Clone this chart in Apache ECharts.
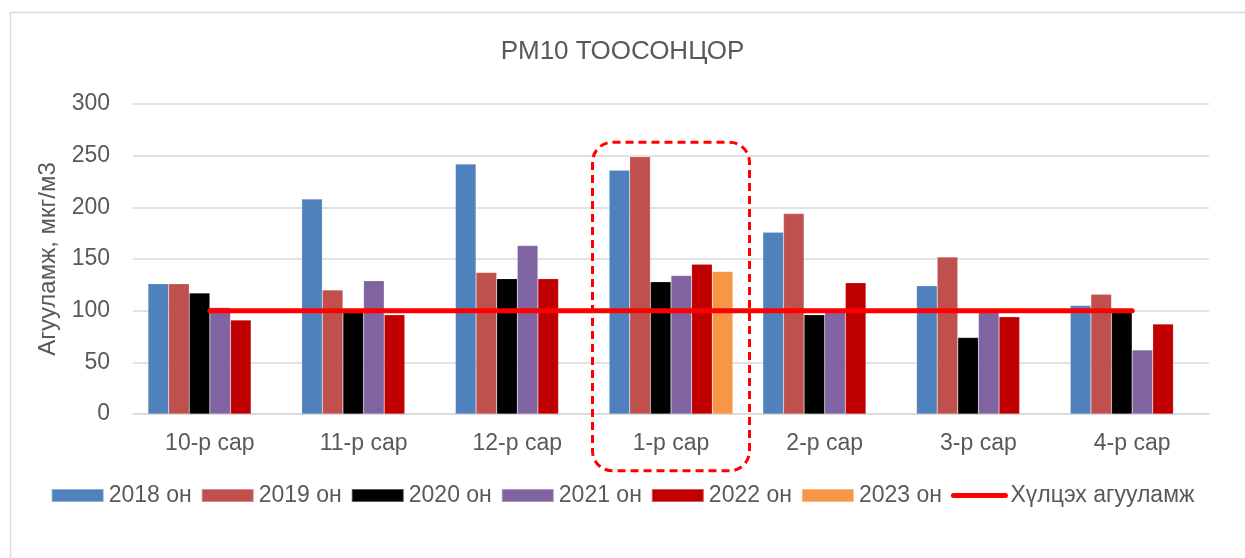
<!DOCTYPE html>
<html>
<head>
<meta charset="utf-8">
<script src="https://cdn.jsdelivr.net/npm/echarts@6/dist/echarts.min.js"></script>
<style>
  html, body { margin: 0; padding: 0; background: #fff; }
  #container { width: 1245px; height: 558px; }
</style>
</head>
<body>
<div id="container"></div>
<script>
// сарууд
var months = ['10-р сар', '11-р сар', '12-р сар', '1-р сар', '2-р сар', '3-р сар', '4-р сар'];
// жил тус бүрийн утга (мкг/м3)
var v2018 = [126, 208, 242, 236, 176, 124, 105];
var v2019 = [126, 120, 137, 249, 194, 152, 116];
var v2020 = [117, 99, 131, 128, 96, 74, 99];
var v2021 = [103, 129, 163, 134, 99, 100, 62];
var v2022 = [91, 96, 131, 145, 127, 94, 87];
var v2023 = [null, null, null, 138, null, null, null];
// хүлцэх агууламж
var limit = [100, 100, 100, 100, 100, 100, 100];
var yTicks = [0, 50, 100, 150, 200, 250, 300];
// тодруулсан сар
var markMonth = '1-р сар';

var textColor = '#595959';
var font = 'Liberation Sans, Arial, sans-serif';

var dom = document.getElementById('container');
var myChart = echarts.init(dom);

function bar(name, values, color) {
    return {
        name: name,
        type: 'bar',
        data: values,
        barGap: 0,
        barCategoryGap: '19.5%',
        itemStyle: { color: color, borderColor: 'rgba(255,255,255,0.35)', borderWidth: 0.5 }
    };
}

myChart.setOption({
    animation: false,
    textStyle: { fontFamily: font },
    title: {
        text: 'PM10 ТООСОНЦОР',
        left: 'center',
        top: 34,
        textStyle: { color: textColor, fontSize: 26, fontWeight: 'normal', fontFamily: font }
    },
    legend: {
        bottom: 46,
        left: 'center',
        itemWidth: 52,
        itemHeight: 13,
        itemGap: 9,
        textStyle: { color: textColor, fontSize: 23, fontFamily: font },
        data: [
            { name: '2018 он', icon: 'rect' },
            { name: '2019 он', icon: 'rect' },
            { name: '2020 он', icon: 'rect' },
            { name: '2021 он', icon: 'rect' },
            { name: '2022 он', icon: 'rect' },
            { name: '2023 он', icon: 'rect' },
            // зөвхөн шугам, цэггүй
            {
                name: 'Хүлцэх агууламж',
                itemStyle: { opacity: 0 },
                lineStyle: { color: '#FF0000', width: 5, cap: 'round' }
            }
        ]
    },
    grid: { left: 133, right: 36, top: 104, bottom: 144 },
    xAxis: {
        type: 'category',
        data: months,
        axisLine: { lineStyle: { color: '#d9d9d9', width: 1.5 } },
        axisTick: { show: false },
        axisLabel: { color: textColor, fontSize: 23, margin: 18, fontFamily: font }
    },
    yAxis: {
        type: 'value',
        min: yTicks[0],
        max: yTicks[yTicks.length - 1],
        interval: 50,
        name: 'Агууламж, мкг/м3',
        nameLocation: 'middle',
        nameGap: 73,
        nameTextStyle: { color: textColor, fontSize: 24, fontFamily: font },
        axisLine: { show: false },
        axisTick: { show: false },
        axisLabel: { color: textColor, fontSize: 23, margin: 23, fontFamily: font },
        splitLine: { lineStyle: { color: '#d9d9d9', width: 1.5 } }
    },
    series: [
        bar('2018 он', v2018, '#4F81BD'),
        bar('2019 он', v2019, '#C0504D'),
        bar('2020 он', v2020, '#000000'),
        bar('2021 он', v2021, '#8064A2'),
        bar('2022 он', v2022, '#C00000'),
        bar('2023 он', v2023, '#F79646'),
        {
            name: 'Хүлцэх агууламж',
            type: 'line',
            data: limit,
            symbol: 'none',
            z: 5,
            itemStyle: { color: '#FF0000' },
            lineStyle: { color: '#FF0000', width: 5, cap: 'round' }
        }
    ]
});

// тодруулсан сарын тасархай хүрээ ба гадна хүрээ
var cx = myChart.convertToPixel({ xAxisIndex: 0 }, markMonth);
var yTop = myChart.convertToPixel({ yAxisIndex: 0 }, 263);
var yBottom = myChart.convertToPixel({ yAxisIndex: 0 }, -55);
myChart.setOption({
    graphic: [
        {
            type: 'rect',
            shape: { x: 10.5, y: 12.5, width: 1300, height: 600 },
            style: { fill: 'none', stroke: '#d9d9d9', lineWidth: 1.5 },
            silent: true
        },
        {
            type: 'rect',
            shape: { x: cx - 78.5, y: yTop, width: 157, height: yBottom - yTop, r: 20 },
            style: { fill: 'none', stroke: '#FF0000', lineWidth: 3, lineDash: [8, 5] },
            z: 10,
            silent: true
        }
    ]
});

window.addEventListener('resize', function () {
    myChart.resize();
});
</script>
</body>
</html>
